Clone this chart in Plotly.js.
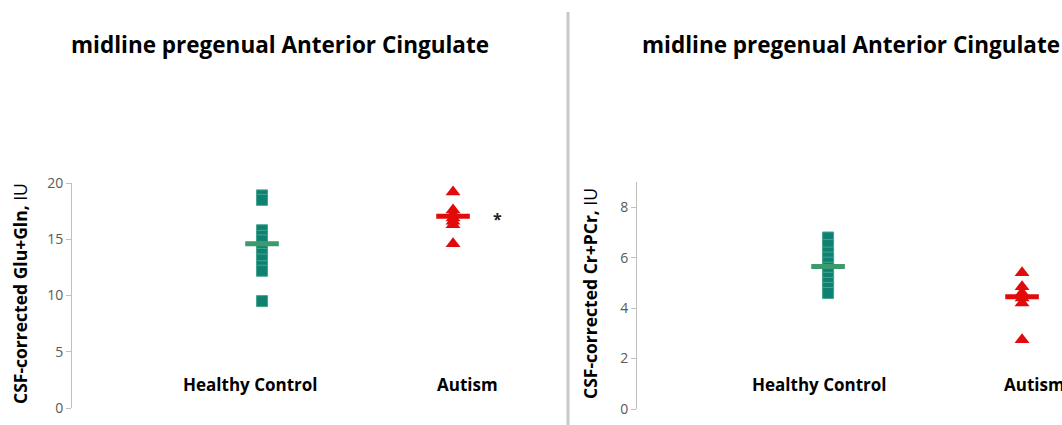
<!DOCTYPE html>
<html><head><meta charset="utf-8">
<script src="https://cdn.plot.ly/plotly-3.0.1.min.js"></script>
<style>html,body{margin:0;padding:0;background:#fff}#chart{width:1062px;height:425px}</style>
</head><body><div id="chart"></div>
<script>
const categories = ['Healthy Control', 'Autism'];
const chartTitle = 'midline pregenual Anterior Cingulate';
const yTitleGlx = 'CSF-corrected Glu+Gln,';
const yTitleCr = 'CSF-corrected Cr+PCr,';
const unitLabel = 'IU';
// Panel 1: Glu+Gln
const glxHC = [18.9, 18.5, 15.8, 15.3, 14.9, 14.3, 13.7, 13.2, 12.6, 12.2, 9.5];
const glxAut = [19.2, 17.6, 17.2, 16.9, 16.6, 16.3, 14.6];
const glxMeans = [14.6, 17.05];
// Panel 2: Cr+PCr
const crHC = [6.8, 6.5, 6.2, 6.0, 5.8, 5.6, 5.4, 5.2, 5.0, 4.8, 4.6];
const crAut = [5.4, 4.85, 4.6, 4.4, 4.2, 2.75];
const crMeans = [5.65, 4.45];
const glxTicks = [0, 5, 10, 15, 20];
const crTicks = [0, 2, 4, 6, 8];

const teal = '#0f8173', tealEdge = '#46a58c', meanGreen = '#3d9a6c', red = '#e20a0a';
function rep(v, n){ return Array(n).fill(v); }

const traces = [
  {x: rep(categories[0], glxHC.length), y: glxHC, xaxis:'x', yaxis:'y', type:'scatter', mode:'markers',
   marker:{symbol:'square', size:11, color:teal, line:{color:tealEdge, width:1}}},
  {x: rep(categories[1], glxAut.length), y: glxAut, xaxis:'x', yaxis:'y', type:'scatter', mode:'markers',
   marker:{symbol:'triangle-up', size:13, color:red, line:{color:red, width:0}}},
  {x: [categories[0]], y: [glxMeans[0]], xaxis:'x', yaxis:'y', type:'scatter', mode:'markers',
   marker:{symbol:'line-ew', size:24, line:{color:meanGreen, width:5}}},
  {x: [categories[1]], y: [glxMeans[1]], xaxis:'x', yaxis:'y', type:'scatter', mode:'markers',
   marker:{symbol:'line-ew', size:24, line:{color:red, width:5}}},
  {x: rep(categories[0], crHC.length), y: crHC, xaxis:'x2', yaxis:'y2', type:'scatter', mode:'markers',
   marker:{symbol:'square', size:11, color:teal, line:{color:tealEdge, width:1}}},
  {x: rep(categories[1], crAut.length), y: crAut, xaxis:'x2', yaxis:'y2', type:'scatter', mode:'markers',
   marker:{symbol:'triangle-up', size:13, color:red, line:{color:red, width:0}}},
  {x: [categories[0]], y: [crMeans[0]], xaxis:'x2', yaxis:'y2', type:'scatter', mode:'markers',
   marker:{symbol:'line-ew', size:24, line:{color:meanGreen, width:5}}},
  {x: [categories[1]], y: [crMeans[1]], xaxis:'x2', yaxis:'y2', type:'scatter', mode:'markers',
   marker:{symbol:'line-ew', size:24, line:{color:red, width:5}}}
];

const W = 1062, H = 425;
const px = v => v / W, py = v => 1 - v / H;
const tickFont = {family:'Open Sans, sans-serif', size:14, color:'#595959'};
const yCommon = {showgrid:false, zeroline:false, showline:true, linecolor:'#bfbfbf', linewidth:1,
  ticks:'outside', ticklen:5, tickcolor:'#bfbfbf', tickfont:tickFont, fixedrange:true};
const xCommon = {type:'category', showgrid:false, zeroline:false, showline:false, showticklabels:false,
  ticks:'', fixedrange:true, categoryorder:'array', categoryarray:categories};

const labelFont = {family:'Open Sans, sans-serif', size:17, color:'#000'};
const titleFont = {family:'Open Sans, sans-serif', size:22.5, color:'#000'};
const yTitleFont = {family:'Open Sans, sans-serif', size:17.5, color:'#000'};

const layout = {
  width: W, height: H, margin:{l:0, r:0, t:0, b:0},
  paper_bgcolor:'#fff', plot_bgcolor:'rgba(0,0,0,0)', showlegend:false, hovermode:false,
  xaxis: Object.assign({}, xCommon, {domain:[px(72), px(560)], range:[-0.995, 1.56], anchor:'y'}),
  yaxis: Object.assign({}, yCommon, {domain:[py(408), py(183)], range:[0, 20], tickvals:glxTicks, anchor:'x'}),
  xaxis2: Object.assign({}, xCommon, {domain:[px(637), 1], range:[-0.985, 1.206], anchor:'y2'}),
  yaxis2: Object.assign({}, yCommon, {domain:[py(409), py(182)], range:[0, 9], tickvals:crTicks, anchor:'x2'}),
  shapes: [
    {type:'line', xref:'paper', yref:'paper', x0:px(568), x1:px(568), y0:py(12), y1:py(425),
     line:{color:'#c9c9c9', width:3}}
  ],
  annotations: [
    {text:'<b>'+chartTitle+'</b>', xref:'paper', yref:'paper', x:px(280), y:py(45), xanchor:'center', yanchor:'middle', showarrow:false, font:titleFont},
    {text:'<b>'+chartTitle+'</b>', xref:'paper', yref:'paper', x:px(640), y:py(45), xanchor:'left', yanchor:'middle', showarrow:false, font:titleFont},
    {text:'<b>'+yTitleGlx+'</b> '+unitLabel, xref:'paper', yref:'paper', x:px(20), y:py(294), textangle:-90, xanchor:'center', yanchor:'middle', showarrow:false, font:yTitleFont},
    {text:'<b>'+yTitleCr+'</b> '+unitLabel, xref:'paper', yref:'paper', x:px(590), y:py(294), textangle:-90, xanchor:'center', yanchor:'middle', showarrow:false, font:yTitleFont},
    {text:'<b>'+categories[0]+'</b>', xref:'x', yref:'paper', x:categories[0], xshift:-12, y:py(384), xanchor:'center', yanchor:'middle', showarrow:false, font:labelFont},
    {text:'<b>'+categories[1]+'</b>', xref:'x', yref:'paper', x:categories[1], xshift:14, y:py(384), xanchor:'center', yanchor:'middle', showarrow:false, font:labelFont},
    {text:'<b>'+categories[0]+'</b>', xref:'x2', yref:'paper', x:categories[0], xshift:-9, y:py(384), xanchor:'center', yanchor:'middle', showarrow:false, font:labelFont},
    {text:'<b>'+categories[1]+'</b>', xref:'x2', yref:'paper', x:categories[1], xshift:12, y:py(384), xanchor:'center', yanchor:'middle', showarrow:false, font:labelFont},
    {text:'<b>*</b>', xref:'x', yref:'y', x:categories[1], xshift:44, y:glxMeans[1], yshift:-3, xanchor:'center', yanchor:'middle', showarrow:false, font:{family:'Open Sans, sans-serif', size:16, color:'#222'}}
  ]
};
Plotly.newPlot('chart', traces, layout, {displayModeBar:false, staticPlot:true});
</script></body></html>
